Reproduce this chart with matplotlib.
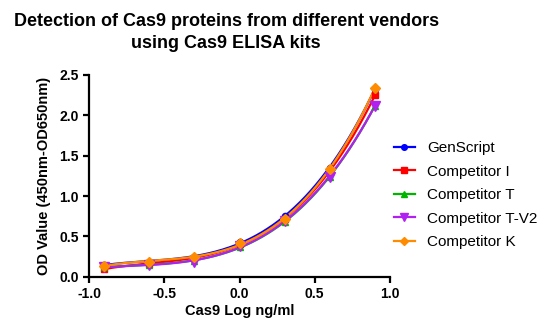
import numpy as np
import matplotlib
matplotlib.use("Agg")
import matplotlib.pyplot as plt

plt.rcParams["font.family"] = ["Liberation Sans", "DejaVu Sans"]

# Cas9 concentration (log ng/ml)
log_conc = [-0.9, -0.6, -0.3, 0.0, 0.3, 0.6, 0.9]

genscript = [0.15, 0.19, 0.25, 0.43, 0.75, 1.35, 2.33]
competitor_i = [0.10, 0.16, 0.23, 0.41, 0.72, 1.30, 2.25]
competitor_t = [0.12, 0.15, 0.20, 0.37, 0.68, 1.24, 2.12]
competitor_tv2 = [0.12, 0.15, 0.19, 0.38, 0.69, 1.24, 2.12]
competitor_k = [0.14, 0.19, 0.24, 0.42, 0.72, 1.33, 2.34]

series = [
    ("GenScript", genscript, "#0000FF", "o", 4.5),
    ("Competitor I", competitor_i, "#FF0000", "s", 4.5),
    ("Competitor T", competitor_t, "#00B400", "^", 5),
    ("Competitor T-V2", competitor_tv2, "#B020F0", "v", 6.5),
    ("Competitor K", competitor_k, "#FF8C00", "D", 5),
]

fig = plt.figure(figsize=(5.57, 3.36), dpi=100)
ax = fig.add_axes([0.16, 0.176, 0.54, 0.601])

xs = np.linspace(-0.9, 0.9, 200)
for name, vals, color, marker, ms in series:
    # smooth fit through the points, like the original curve fit
    coef = np.polyfit(log_conc, vals, 3)
    ax.plot(xs, np.polyval(coef, xs), color=color, lw=1.6, zorder=2)
for name, vals, color, marker, ms in series:
    ax.plot(log_conc, vals, linestyle="none", marker=marker, ms=ms,
            color=color, zorder=3)
    # legend proxy
    ax.plot([], [], color=color, lw=1.6, marker=marker, ms=ms * 0.9, label=name)

ax.set_xlim(-1.0, 1.0)
ax.set_ylim(0, 2.5)
ax.set_xticks([-1.0, -0.5, 0.0, 0.5, 1.0])
ax.set_yticks([0, 0.5, 1.0, 1.5, 2.0, 2.5])
ax.xaxis.set_major_formatter(matplotlib.ticker.FormatStrFormatter("%.1f"))
ax.yaxis.set_major_formatter(matplotlib.ticker.FormatStrFormatter("%.1f"))

for s in ["top", "right"]:
    ax.spines[s].set_visible(False)
for s in ["left", "bottom"]:
    ax.spines[s].set_linewidth(1.6)
ax.tick_params(width=1.6, length=4, labelsize=10)
for lbl in ax.get_xticklabels() + ax.get_yticklabels():
    lbl.set_fontweight("bold")

ax.set_xlabel("Cas9 Log ng/ml", fontsize=10.5, fontweight="bold", labelpad=2)
ax.set_ylabel("OD Value (450nm-OD650nm)", fontsize=10.5, fontweight="bold", labelpad=6)

fig.text(0.406, 0.96, "Detection of Cas9 proteins from different vendors\nusing Cas9 ELISA kits",
         ha="center", va="top", fontsize=13, fontweight="bold", linespacing=1.35)

handles, labels = ax.get_legend_handles_labels()
ax.legend(handles[-5:], labels[-5:], loc="center left", bbox_to_anchor=(0.967, 0.405),
          frameon=False, fontsize=11, handlelength=1.4, labelspacing=0.62)

fig.savefig("out.png", dpi=100)
